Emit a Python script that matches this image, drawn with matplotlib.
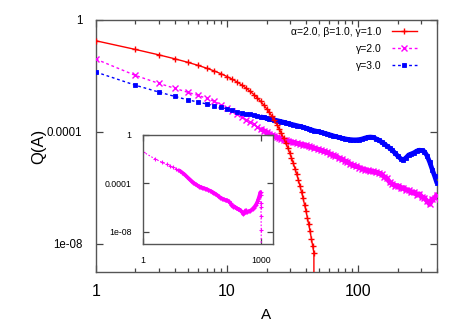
import numpy as np
import matplotlib
matplotlib.use('Agg')
import matplotlib.pyplot as plt
from matplotlib.ticker import FixedLocator, FixedFormatter, NullLocator
from matplotlib.legend import Legend

plt.rcParams['font.family'] = ['Liberation Sans', 'DejaVu Sans']

# ---------------- data (log10 of Q(A)) ----------------
a_red = list(range(1, 48))
logq_red = [-0.743, -1.052, -1.242, -1.387, -1.509, -1.619, -1.722, -1.822, -1.921, -2.020,
            -2.120, -2.222, -2.327, -2.435, -2.546, -2.661, -2.779, -2.902, -3.030, -3.161,
            -3.297, -3.437, -3.583, -3.733, -3.888, -4.048, -4.212, -4.382, -4.557, -4.737,
            -4.922, -5.112, -5.308, -5.508, -5.714, -5.925, -6.141, -6.363, -6.590, -6.822,
            -7.060, -7.302, -7.550, -7.804, -8.063, -8.328, -np.inf]

a_vals = [1, 2, 3, 4, 5, 6, 7, 8, 9, 10, 11, 12, 13, 14, 15, 16, 17, 18, 19, 20,
          21, 22, 23, 24, 25, 26, 27, 28, 29, 30, 32, 34, 36, 38, 40, 42, 44, 46,
          49, 52, 55, 58, 61, 64, 67, 71, 75, 79, 83, 87, 92, 97, 102, 107, 112,
          118, 124, 130, 137, 144, 151, 158, 166, 174, 183, 192, 201, 211, 221,
          232, 243, 255, 267, 280, 293, 307, 321, 336, 352, 368, 384, 400]

logq_g2 = [-1.40, -1.98, -2.26, -2.44, -2.58, -2.69, -2.80, -2.91, -3.02, -3.13,
           -3.24, -3.35, -3.46, -3.56, -3.65, -3.73, -3.81, -3.88, -3.95, -4.01,
           -4.06, -4.11, -4.15, -4.19, -4.22, -4.25, -4.28, -4.30, -4.32, -4.34,
           -4.37, -4.40, -4.43, -4.45, -4.48, -4.51, -4.54, -4.57,
           -4.61, -4.65, -4.69, -4.73, -4.78, -4.82, -4.86, -4.92, -4.97, -5.03, -5.08, -5.14,
           -5.19, -5.23, -5.27, -5.31, -5.34,
           -5.37, -5.40, -5.41, -5.43, -5.47, -5.51, -5.60, -5.66, -5.79, -5.86, -5.93, -5.92,
           -6.00, -5.99, -6.07, -6.08, -6.16, -6.15, -6.24, -6.21, -6.32, -6.36, -6.47,
           -6.58, -6.40, -6.36, -6.24]

logq_g3 = [-1.86, -2.33, -2.57, -2.73, -2.85, -2.93, -3.00, -3.06, -3.12, -3.18,
           -3.23, -3.27, -3.31, -3.34, -3.37, -3.40, -3.43, -3.46, -3.48, -3.51,
           -3.53, -3.55, -3.57, -3.59, -3.61, -3.63, -3.65, -3.67, -3.69, -3.71,
           -3.74, -3.77, -3.80, -3.83, -3.86, -3.89, -3.92, -3.95,
           -3.98, -4.01, -4.04, -4.07, -4.10, -4.13, -4.16, -4.19, -4.22, -4.24, -4.26, -4.27,
           -4.28, -4.28, -4.27, -4.25, -4.22,
           -4.19, -4.18, -4.19, -4.24, -4.29, -4.36, -4.42, -4.50, -4.57, -4.66, -4.76, -4.86,
           -4.95, -5.00, -4.92, -4.82, -4.78, -4.74, -4.68, -4.65, -4.66, -4.70, -4.85,
           -5.08, -5.34, -5.58, -5.83]

# continuation of the gamma=2 series (shown in the inset)
a_ext = [420, 445, 470, 500, 530, 560, 600, 640, 680, 720, 760, 800, 840, 870, 900,
         925, 945, 955, 962, 968, 975, 982, 990, 1000]
logq_ext = [-6.38, -6.36, -6.33, -6.30, -6.26, -6.21, -6.12, -6.02, -5.92, -5.80, -5.66,
            -5.50, -5.30, -5.14, -4.98, -4.85, -4.74, -4.75, -5.00, -5.60, -6.00, -6.70,
            -7.90, -np.inf]

labels = ['\u03b1=2.0, \u03b2=1.0, \u03b3=1.0', '\u03b3=2.0', '\u03b3=3.0']
colors = ['#ff0000', '#ff00ff', '#0000ff']

q_red = np.power(10.0, np.array(logq_red))
a_arr = np.array(a_vals, dtype=float)
q_g3 = np.power(10.0, np.array(logq_g3))
a_g2_full = np.array(a_vals + a_ext, dtype=float)
q_g2_full = np.power(10.0, np.array(logq_g2 + logq_ext))

# ---------------- figure ----------------
W, H = 467, 327
fig = plt.figure(figsize=(W / 100, H / 100), dpi=100)
ax = fig.add_axes([96 / W, 1 - 272 / H, (437 - 96) / W, (272 - 20) / H])

dots = (0, (2, 2))
# dense parts of the data show up as a solid band of overlapping markers
band2 = (a_g2_full >= 18) & (a_g2_full <= 955)
band3 = a_arr >= 18
ax.plot(a_g2_full[band2], q_g2_full[band2], color=colors[1], lw=3.6, solid_capstyle='butt',
        zorder=2)
ax.plot(a_arr[band3], q_g3[band3], color=colors[2], lw=3.4, solid_capstyle='butt', zorder=2)

l1, = ax.plot(a_red, q_red, color=colors[0], lw=1.0, marker='+', ms=5, mew=1.0, zorder=4)
l2, = ax.plot(a_g2_full, q_g2_full, color=colors[1], lw=1.0, ls=dots, marker='x', ms=3.8,
              mew=1.0, zorder=3)
l3, = ax.plot(a_arr, q_g3, color=colors[2], lw=1.0, ls=dots, marker='s', ms=3.0, mew=0.6,
              zorder=3)

ax.set_xscale('log')
ax.set_yscale('log')
ax.set_xlim(1, 400)
ax.set_ylim(1e-9, 1)

ax.xaxis.set_major_locator(FixedLocator([1, 10, 100]))
ax.xaxis.set_major_formatter(FixedFormatter(['1', '10', '100']))
ax.xaxis.set_minor_locator(FixedLocator([2, 3, 4, 5, 6, 7, 8, 9, 20, 30, 40, 50, 60, 70, 80, 90,
                                          200, 300, 400]))
ax.yaxis.set_major_locator(FixedLocator([1, 1e-4, 1e-8]))
ax.yaxis.set_major_formatter(FixedFormatter(['1', '0.0001', '1e-08']))
ax.yaxis.set_minor_locator(NullLocator())

ax.tick_params(which='both', direction='in', top=True, right=True, colors='#444444', width=0.9)
ax.tick_params(which='major', length=5)
ax.tick_params(which='minor', length=3)
ax.tick_params(axis='x', which='major', labelsize=11.5, pad=9, labelcolor='black')
ax.tick_params(axis='y', which='major', labelsize=8.3, pad=10, labelcolor='black')
for s in ax.spines.values():
    s.set_color('#555555')
    s.set_linewidth(1.0)

ax.set_xlabel('A', fontsize=11, labelpad=6)
ax.set_ylabel('Q(A)', fontsize=12, labelpad=0.5)

# one right-anchored legend per entry, so each label sits flush against its sample
row_step = 17 / 252
for i, (ln, lab) in enumerate(zip([l1, l2, l3], labels)):
    lg = Legend(ax, [ln], [lab], loc='upper right',
                bbox_to_anchor=(0.953, 0.99 - i * row_step),
                borderaxespad=0.0, frameon=False, markerfirst=False, fontsize=7.5,
                handlelength=2.4, handletextpad=1.0, numpoints=1)
    ax.add_artist(lg)

# ---------------- inset ----------------
axi = fig.add_axes([142.7 / W, 1 - 243.7 / H, (273.3 - 142.7) / W, (243.7 - 134.7) / H])
band_i = (a_g2_full >= 8) & (a_g2_full <= 955)
axi.plot(a_g2_full[band_i], q_g2_full[band_i], color=colors[1], lw=2.6, solid_capstyle='butt')
axi.plot(a_g2_full, q_g2_full, color=colors[1], lw=0.8, ls=(0, (1.5, 1.5)), marker='+',
         ms=3.0, mew=0.8)
axi.set_xscale('log')
axi.set_yscale('log')
axi.set_xlim(1, 2000)
axi.set_ylim(1e-9, 1)
axi.xaxis.set_major_locator(FixedLocator([1, 1000]))
axi.xaxis.set_major_formatter(FixedFormatter(['1', '1000']))
axi.xaxis.set_minor_locator(NullLocator())
axi.yaxis.set_major_locator(FixedLocator([1, 1e-4, 1e-8]))
axi.yaxis.set_major_formatter(FixedFormatter(['1', '0.0001', '1e-08']))
axi.yaxis.set_minor_locator(NullLocator())
axi.tick_params(which='both', direction='in', top=True, right=True, colors='#444444',
                width=0.9, length=4, labelsize=6.3, labelcolor='black')
axi.tick_params(axis='x', pad=9)
axi.tick_params(axis='y', pad=8)
for s in axi.spines.values():
    s.set_color('#555555')
    s.set_linewidth(1.0)

fig.savefig('out.png', dpi=100)
